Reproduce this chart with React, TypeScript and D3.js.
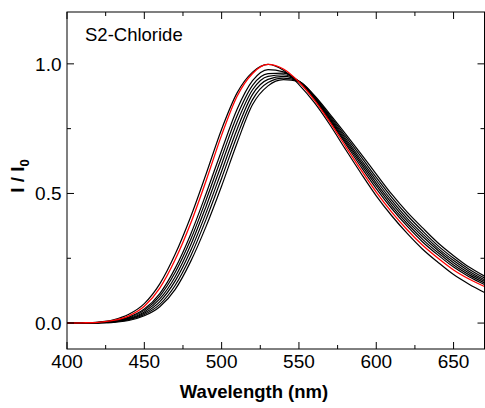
import React from 'react';
import * as d3 from 'd3';

const wavelengths = [400, 410, 420, 430, 440, 450, 460, 470, 480, 490, 500, 510, 520, 530, 540, 550, 560, 570, 580, 590, 600, 610, 620, 630, 640, 650, 660, 670];

const redSeries = [0.000, 0.001, 0.003, 0.010, 0.028, 0.065, 0.135, 0.245, 0.385, 0.550, 0.725, 0.875, 0.963, 0.998, 0.980, 0.930, 0.860, 0.775, 0.683, 0.592, 0.505, 0.428, 0.360, 0.300, 0.250, 0.205, 0.170, 0.141];

const black0 = [0.000, 0.001, 0.004, 0.013, 0.034, 0.075, 0.151, 0.266, 0.410, 0.576, 0.748, 0.888, 0.968, 0.998, 0.975, 0.920, 0.850, 0.765, 0.671, 0.579, 0.491, 0.414, 0.346, 0.285, 0.234, 0.187, 0.150, 0.118];
const black1 = [0.000, 0.001, 0.002, 0.008, 0.023, 0.054, 0.114, 0.212, 0.343, 0.500, 0.666, 0.825, 0.935, 0.978, 0.969, 0.930, 0.864, 0.781, 0.693, 0.604, 0.519, 0.442, 0.374, 0.313, 0.262, 0.216, 0.179, 0.149];
const black2 = [0.000, 0.000, 0.002, 0.007, 0.020, 0.049, 0.104, 0.196, 0.322, 0.476, 0.640, 0.800, 0.917, 0.962, 0.964, 0.932, 0.867, 0.786, 0.700, 0.614, 0.530, 0.452, 0.384, 0.323, 0.271, 0.224, 0.186, 0.155];
const black3 = [0.000, 0.000, 0.001, 0.005, 0.017, 0.043, 0.093, 0.179, 0.301, 0.451, 0.613, 0.775, 0.900, 0.952, 0.958, 0.933, 0.870, 0.791, 0.707, 0.623, 0.540, 0.463, 0.394, 0.334, 0.280, 0.233, 0.193, 0.161];
const black4 = [0.000, 0.000, 0.001, 0.005, 0.015, 0.038, 0.083, 0.163, 0.280, 0.426, 0.586, 0.748, 0.882, 0.940, 0.952, 0.933, 0.872, 0.795, 0.714, 0.632, 0.551, 0.473, 0.404, 0.344, 0.288, 0.241, 0.200, 0.167];
const black5 = [0.000, 0.000, 0.001, 0.004, 0.013, 0.033, 0.072, 0.146, 0.259, 0.401, 0.559, 0.722, 0.862, 0.928, 0.945, 0.933, 0.875, 0.800, 0.722, 0.643, 0.562, 0.485, 0.416, 0.355, 0.298, 0.250, 0.208, 0.174];
const black6 = [0.000, 0.000, 0.001, 0.003, 0.010, 0.028, 0.063, 0.130, 0.238, 0.374, 0.529, 0.695, 0.843, 0.915, 0.939, 0.932, 0.878, 0.806, 0.731, 0.654, 0.575, 0.497, 0.428, 0.367, 0.309, 0.260, 0.216, 0.181];

const blackSeries = [black0, black1, black2, black3, black4, black5, black6];

const xMajorTicks = [400, 450, 500, 550, 600, 650];
const xMinorTicks = [425, 475, 525, 575, 625];
const yMajorTicks = [0, 0.5, 1.0];
const yMinorTicks = [0.25, 0.75];

const W = 485;
const H = 408;
const FONT = '"Liberation Sans", Arial, Helvetica, sans-serif';

export default function App() {
  const left = 67, right = 484.5, top = 12, bottom = 349;
  const x = d3.scaleLinear().domain([400, 670]).range([left, right]);
  const y = d3.scaleLinear().domain([-0.1, 1.2]).range([bottom, top]);
  const line = d3
    .line<number>()
    .x((_, i) => x(wavelengths[i]))
    .y((d) => y(d))
    .curve(d3.curveMonotoneX);

  const majorLen = 7;
  const minorLen = 4;

  return (
    <svg
      width={W}
      height={H}
      style={{ position: 'absolute', left: 0, top: 0, background: '#fff' }}
      fontFamily={FONT}
    >
      <defs>
        <clipPath id="plot">
          <rect x={left} y={top} width={right - left} height={bottom - top} />
        </clipPath>
      </defs>
      <g clipPath="url(#plot)" fill="none">
        {blackSeries.map((s, i) => (
          <path key={i} d={line(s) || ''} stroke="#000" strokeWidth={1.2} />
        ))}
        <path d={line(redSeries) || ''} stroke="#ff0000" strokeWidth={1.3} />
      </g>
      <rect x={left} y={top} width={right - left} height={bottom - top} fill="none" stroke="#000" strokeWidth={1} />
      {xMajorTicks.map((t) => (
        <g key={'xM' + t}>
          <line x1={x(t)} x2={x(t)} y1={bottom} y2={bottom - majorLen} stroke="#000" />
          <line x1={x(t)} x2={x(t)} y1={top} y2={top + majorLen} stroke="#000" />
          <text x={x(t)} y={368} fontSize={19} textAnchor="middle" fill="#000">
            {t}
          </text>
        </g>
      ))}
      {xMinorTicks.map((t) => (
        <g key={'xm' + t}>
          <line x1={x(t)} x2={x(t)} y1={bottom} y2={bottom - minorLen} stroke="#000" />
          <line x1={x(t)} x2={x(t)} y1={top} y2={top + minorLen} stroke="#000" />
        </g>
      ))}
      {yMajorTicks.map((t) => (
        <g key={'yM' + t}>
          <line x1={left} x2={left + majorLen} y1={y(t)} y2={y(t)} stroke="#000" />
          <line x1={right} x2={right - majorLen} y1={y(t)} y2={y(t)} stroke="#000" />
          <text x={61.5} y={y(t) + 7} fontSize={19} textAnchor="end" fill="#000">
            {t.toFixed(1)}
          </text>
        </g>
      ))}
      {yMinorTicks.map((t) => (
        <g key={'ym' + t}>
          <line x1={left} x2={left + minorLen} y1={y(t)} y2={y(t)} stroke="#000" />
          <line x1={right} x2={right - minorLen} y1={y(t)} y2={y(t)} stroke="#000" />
        </g>
      ))}
      <text x={85} y={40.5} fontSize={18.5} fill="#000">
        S2-Chloride
      </text>
      <text x={254} y={398} fontSize={18.5} fontWeight="bold" textAnchor="middle" fill="#000">
        Wavelength (nm)
      </text>
      <text
        transform={`translate(24, ${176}) rotate(-90)`}
        fontSize={19}
        fontWeight="bold"
        textAnchor="middle"
        fill="#000"
      >
        I / I<tspan fontSize={13} dy={5}>0</tspan>
      </text>
    </svg>
  );
}
